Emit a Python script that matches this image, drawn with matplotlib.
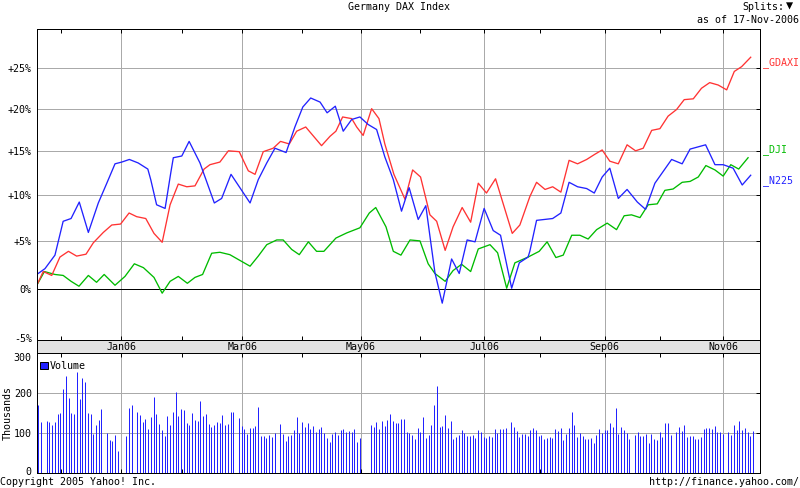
import numpy as np
import matplotlib
matplotlib.use("Agg")
import matplotlib.pyplot as plt
from matplotlib.patches import Patch
from matplotlib.transforms import ScaledTranslation

plt.rcParams['font.family'] = ['DejaVu Sans Mono']
plt.rcParams['font.size'] = 7.2

TITLE = "Germany DAX Index"
month_pos = [29.0, 70.3, 110.6, 152.9, 194.0, 234.3]
month_labels = ["Jan06", "Mar06", "May06", "Jul06", "Sep06", "Nov06"]
minor_pos = [8.2, 49.5, 90.8, 131.0, 172.0, 213.0]
pct_ticks = [-5, 0, 5, 10, 15, 20, 25]
pct_labels = ["-5%", "0%", "+5%", "+10%", "+15%", "+20%", "+25%"]
vol_ticks = [0, 100, 200, 300]

gdaxi_x = [0.1, 2.3, 5.2, 8.0, 10.9, 13.7, 16.9, 19.4, 22.8, 25.7, 28.7, 31.6, 34.2, 37.3, 40.1, 42.9, 45.6, 48.4, 51.3, 54.1,
           57.2, 59.2, 62.6, 65.5, 69.2, 72.3, 74.6, 77.4, 80.8, 83.3, 86.3, 88.8, 91.9, 97.3, 100.2, 102.2, 104.5, 107.6, 109.3, 111.5,
           114.4, 116.9, 118.9, 122.0, 125.8, 128.4, 131.1, 134.3, 136.6, 139.5, 142.2, 145.3, 148.2, 150.8, 153.6, 156.7, 162.4, 165.0, 168.4, 170.7,
           173.6, 176.2, 179.0, 181.8, 184.7, 187.8, 190.6, 193.1, 195.7, 198.6, 201.6, 204.5, 207.1, 210.0, 212.8, 215.6, 218.5, 221.1, 224.2, 227.0,
           229.8, 232.7, 235.6, 238.2, 240.7, 243.8]
gdaxi_pct = [0.4, 1.8, 1.4, 3.3, 3.9, 3.4, 3.6, 4.8, 5.9, 6.7, 6.8, 8.0, 7.6, 7.4, 5.8, 4.85, 8.9, 11.2, 10.9, 11.0,
             12.9, 13.4, 13.7, 15.0, 14.9, 12.7, 12.3, 14.9, 15.3, 16.1, 15.8, 17.3, 17.8, 15.6, 16.7, 17.3, 19.0, 18.8, 17.8, 16.8,
             20.0, 18.8, 15.8, 12.3, 9.5, 12.8, 12.0, 7.8, 7.1, 4.0, 6.5, 8.6, 7.0, 11.3, 10.2, 11.8, 5.8, 6.7, 9.8, 11.4,
             10.6, 10.9, 10.3, 13.9, 13.5, 14.0, 14.6, 15.1, 13.8, 13.5, 15.7, 15.0, 15.3, 17.4, 17.6, 19.1, 19.9, 21.1, 21.2, 22.5,
             23.2, 22.9, 22.3, 24.6, 25.2, 26.4]

n225_x = [0.1, 2.9, 6.3, 9.1, 11.8, 14.6, 17.7, 21.1, 24.0, 26.8, 29.1, 31.7, 34.7, 38.0, 39.0, 41.0, 43.9, 45.8, 46.7, 49.6,
          52.1, 55.8, 60.7, 63.2, 66.4, 72.9, 75.7, 78.6, 81.4, 85.2, 88.2, 90.9, 93.6, 96.8, 99.2, 102.0, 104.7, 107.6, 110.4, 113.2,
          116.1, 118.9, 121.8, 124.6, 127.2, 130.3, 132.9, 134.3, 136.0, 138.5, 141.7, 144.3, 147.0, 149.7, 152.8, 155.9, 158.4, 162.2, 164.8, 167.8,
          168.4, 170.7, 176.2, 179.0, 181.8, 184.7, 187.8, 190.4, 193.1, 195.7, 198.6, 201.6, 205.1, 207.9, 211.1, 216.8, 220.4, 223.1, 228.4, 231.6,
          234.4, 237.8, 240.9, 243.8]
n225_pct = [1.5, 2.1, 3.5, 7.1, 7.4, 9.2, 5.9, 9.1, 11.3, 13.5, 13.7, 14.0, 13.6, 12.9, 11.7, 8.9, 8.5, 12.4, 14.2, 14.4,
            16.1, 13.6, 9.1, 9.6, 12.3, 9.1, 11.7, 13.6, 15.3, 14.8, 17.8, 20.2, 21.3, 20.8, 19.5, 20.3, 17.3, 18.7, 19.0, 18.1,
            17.5, 14.3, 11.7, 8.2, 10.8, 7.3, 8.8, 5.5, 1.7, -1.4, 3.1, 1.6, 5.1, 4.9, 8.5, 6.1, 5.6, 0.1, 2.7, 3.3,
            3.9, 7.2, 7.4, 8.0, 11.4, 10.9, 10.7, 10.2, 12.0, 13.0, 9.6, 10.6, 9.2, 8.4, 11.3, 14.0, 13.5, 15.2, 15.7, 13.4,
            13.4, 13.0, 11.1, 12.2]

dji_x = [0.1, 2.7, 6.3, 9.1, 11.8, 14.5, 17.7, 20.5, 23.1, 26.8, 30.2, 33.4, 36.5, 40.1, 42.9, 45.6, 48.4, 51.5, 54.1, 56.7,
         59.8, 62.6, 66.0, 72.9, 75.7, 78.6, 82.0, 84.2, 87.1, 89.7, 92.8, 95.6, 98.1, 102.2, 105.9, 110.4, 113.6, 115.8, 119.3, 121.8,
         124.4, 127.5, 130.9, 133.7, 136.0, 139.5, 142.2, 145.1, 148.2, 150.8, 154.8, 157.4, 160.5, 163.3, 167.8, 171.6, 174.3, 177.3, 179.8, 182.7,
         185.5, 188.3, 191.2, 194.8, 198.0, 200.6, 203.1, 206.0, 208.8, 211.9, 214.5, 217.3, 220.4, 223.1, 225.9, 228.5, 231.6, 234.4, 237.0, 239.7,
         242.9]
dji_pct = [0.4, 1.8, 1.5, 1.4, 0.8, 0.3, 1.4, 0.7, 1.5, 0.4, 1.3, 2.6, 2.2, 1.2, -0.4, 0.8, 1.3, 0.6, 1.2, 1.5,
           3.7, 3.8, 3.55, 2.35, 3.4, 4.6, 5.1, 5.1, 4.1, 3.55, 4.9, 3.9, 3.9, 5.3, 5.85, 6.4, 8.0, 8.6, 6.5, 3.9,
           3.5, 5.1, 5.0, 2.6, 1.6, 0.8, 1.9, 2.55, 1.8, 4.15, 4.6, 3.75, 0.1, 2.7, 3.3, 3.9, 4.9, 3.25, 3.5, 5.6,
           5.6, 5.2, 6.2, 6.9, 6.2, 7.7, 7.8, 7.5, 8.9, 9.0, 10.5, 10.65, 11.4, 11.5, 12.0, 13.3, 12.8, 12.1, 13.4, 12.9,
           14.2]

# Volume in thousands, one entry per weekday; nan = no bar that day
N = np.nan
volume = [171, 128, N, 131, 128, 121, 128, 148, 151, 211,
          243, 188, 151, 148, 253, 186, 238, 228, 151, 148,
          98, 121, 133, 161, N, 101, 83, 81, 96, 56,
          N, N, 93, 163, 171, N, 153, 146, 128, 136,
          111, 141, 191, 148, 123, 108, 93, 143, 121, 153,
          203, 143, 161, 158, 126, 121, 151, 133, 131, 181,
          143, 148, 123, 116, 121, 128, 126, 146, 121, 123,
          153, 153, N, 138, 118, 111, 98, 113, 113, 118,
          166, 93, 93, 88, 96, 91, 101, N, 123, 98,
          81, 93, 96, 108, 141, 101, 128, 116, 126, 111,
          118, 103, 111, 116, 101, 88, 78, 98, 103, 96,
          108, 111, 103, 106, 103, 111, 78, 88, N, N,
          N, 121, 116, 128, 111, 131, 118, 133, 148, 131,
          126, 126, 136, 136, 103, 101, 96, 86, 113, 103,
          141, 88, 96, 121, 171, 218, 116, 118, 146, 113,
          131, 86, 91, 96, 108, 101, 93, 93, 96, 88,
          108, 103, 91, 88, 93, 91, 111, 101, 111, 111,
          113, N, 128, 116, 106, 91, 98, 98, 93, 108,
          113, 108, 93, 96, 86, 88, 91, 88, 111, 106,
          113, 83, 98, 113, 153, 121, 91, 101, 93, 86,
          86, 88, 76, 96, 111, 101, 108, 108, 126, 116,
          163, 98, 116, 108, 101, 86, N, 96, 103, 93,
          93, 98, 76, 98, 86, 83, 103, 91, 126, 126,
          96, N, 103, 116, 106, 121, 91, 93, 93, 86,
          86, 91, 111, 113, 113, 111, 118, 103, 103, 98,
          N, 103, 96, 121, 108, 131, 108, 113, 103, 93,
          106]

RED, GREEN, BLUE = "#ff3333", "#00bb00", "#2222ff"
GRID = "#aaaaaa"
BAND = "#e3e3e3"
PX = 0.72  # one pixel at 100 dpi, in points

W, H = 800, 488
LEFT, RIGHT, TOP, MID, BAND_B, BOTTOM = 36.5, 759.5, 28.5, 340, 353, 473.3

fig = plt.figure(figsize=(W / 100, H / 100), dpi=100, facecolor="white")


def box(t, b):
    return [LEFT / W, 1 - b / H, (RIGHT - LEFT) / W, (b - t) / H]


ax = fig.add_axes(box(TOP, MID))
band = fig.add_axes(box(MID, BAND_B), sharex=ax)
vol = fig.add_axes(box(BAND_B, BOTTOM), sharex=ax)

fwd = lambda p: np.log1p(np.asarray(p, dtype=float) / 100)
inv = lambda v: (np.expm1(v)) * 100
ax.set_yscale("function", functions=(fwd, inv))
ax.set_xlim(0, 246.8)
ax.set_ylim(-5, 30.12)

ax.plot(dji_x, dji_pct, color=GREEN, lw=0.95, zorder=3)
ax.plot(gdaxi_x, gdaxi_pct, color=RED, lw=0.95, zorder=4)
ax.plot(n225_x, n225_pct, color=BLUE, lw=0.95, zorder=5)
ax.axhline(0, color="black", lw=PX, zorder=2.5)

ax.set_yticks(pct_ticks)
ax.set_yticklabels(pct_labels)
ax.yaxis.set_minor_locator(matplotlib.ticker.NullLocator())
ax.tick_params(axis="y", which="both", left=False, right=True, direction="in", length=3, pad=3.4, width=PX)
for a in (ax, vol):
    a.set_xticks(month_pos)
    a.set_xticks(minor_pos, minor=True)
    a.tick_params(axis="x", which="both", top=True, bottom=True, direction="in", length=3, width=PX,
                  labelbottom=False)
    a.grid(True, which="major", color=GRID, lw=PX, zorder=1)
    a.set_axisbelow(True)
    for s in a.spines.values():
        s.set_linewidth(PX)
        s.set_zorder(6)
ax.get_yticklabels()[0].set_transform(
    ax.get_yticklabels()[0].get_transform() + ScaledTranslation(0, 2 / 100, fig.dpi_scale_trans))

band.set_facecolor(BAND)
band.set_ylim(0, 1)
band.set_yticks([])
band.tick_params(axis="x", which="both", length=0, labelbottom=False)
for s in band.spines.values():
    s.set_linewidth(PX)
for p, l in zip(month_pos, month_labels):
    band.text(p, 0.47, l, ha="center", va="center")

vol_x = 0.6 + np.arange(len(volume)) * 0.9386
vol_y = np.array(volume, dtype=float)
keep = ~np.isnan(vol_y)
bars = vol.vlines(vol_x[keep], 0, vol_y[keep], color=BLUE, lw=PX, zorder=3)
bars.set_snap(True)
vol.set_ylim(0, 300)
vol.set_yticks(vol_ticks)
vol.tick_params(axis="y", left=False, right=True, direction="in", length=3, pad=3.4, width=PX)
vl = vol.get_yticklabels()
vl[0].set_transform(vl[0].get_transform() + ScaledTranslation(0, 2 / 100, fig.dpi_scale_trans))
vl[-1].set_va("top")
vol.set_ylabel("Thousands", fontsize=7.2, va="center", labelpad=1)
vol.yaxis.set_label_coords(-0.0400, 0.5)
leg = vol.legend(handles=[Patch(facecolor=BLUE, edgecolor="black", linewidth=PX, label="Volume")],
                 loc="upper left", bbox_to_anchor=(-0.006, 1.0), frameon=False, handlelength=0.75,
                 handleheight=0.75, handletextpad=0.2, borderpad=0.3, fontsize=7.2)
leg.set_zorder(7)


def put(x, y, s, **kw):
    fig.text(x / W, 1 - y / H, s, va="center", **kw)


put(399, 7, TITLE, ha="center")
put(784, 7, "Splits:", ha="right")
put(790, 6, "\u25bc", ha="center", fontsize=8.5)
put(799, 20, "as of 17-Nov-2006", ha="right")
put(763, 63, "_GDAXI", ha="left", color=RED)
put(763, 150, "_DJI", ha="left", color=GREEN)
put(763, 181, "_N225", ha="left", color=BLUE)
put(0, 482, "Copyright 2005 Yahoo! Inc.", ha="left")
put(799, 482, "http://finance.yahoo.com/", ha="right")

fig.savefig("out.png", dpi=100, facecolor="white")
